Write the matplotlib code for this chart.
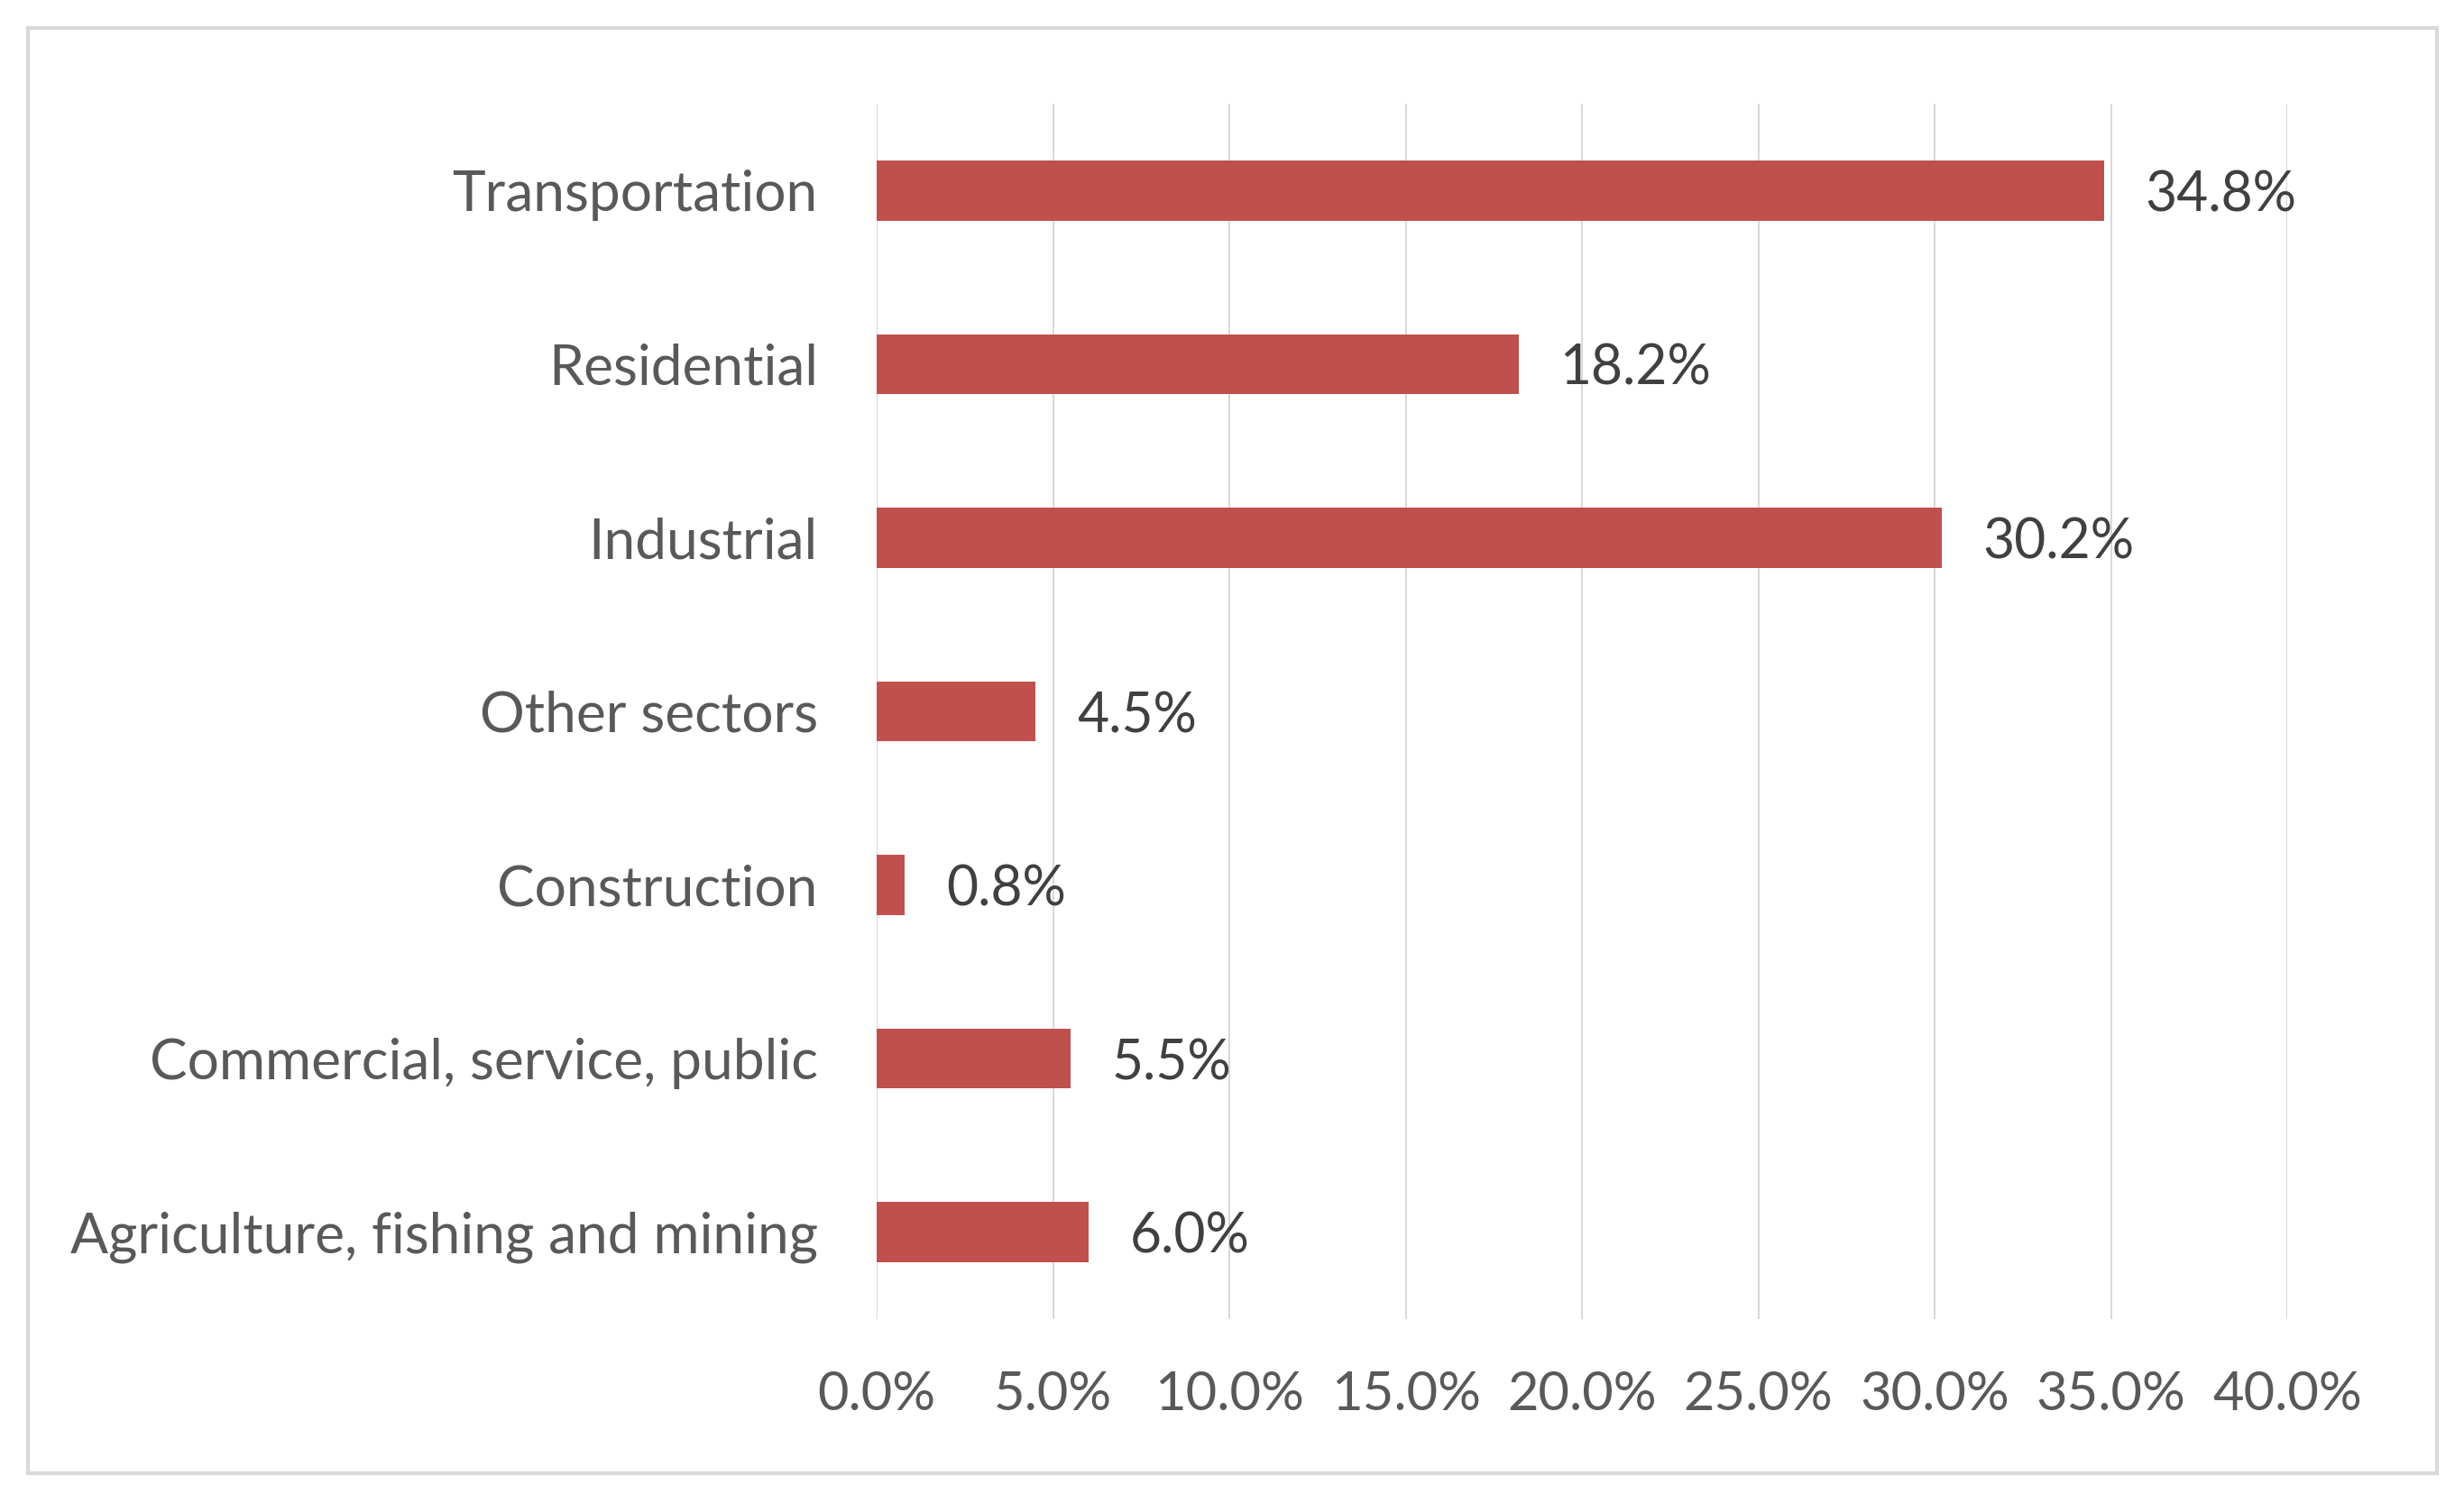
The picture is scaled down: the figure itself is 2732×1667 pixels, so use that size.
import matplotlib
matplotlib.use('Agg')
import matplotlib.pyplot as plt
from matplotlib.patches import Rectangle
from matplotlib.ticker import FuncFormatter

# data (bottom to top, as in the chart)
sectors = ['Agriculture, fishing and mining', 'Commercial, service, public',
           'Construction', 'Other sectors', 'Industrial', 'Residential',
           'Transportation']
shares = [6.0, 5.5, 0.8, 4.5, 30.2, 18.2, 34.8]
x_ticks = [0, 5, 10, 15, 20, 25, 30, 35, 40]

plt.rcParams['font.family'] = ['Lato', 'DejaVu Sans']

fig = plt.figure(figsize=(13.66, 8.335), dpi=200)
ax = fig.add_axes([0.3558, 0.1224, 0.5725, 0.8086])

# outer chart border
fig.patches.append(Rectangle((0.0113, 0.0198), 0.9777, 0.9616, transform=fig.transFigure,
                             fill=False, edgecolor='#d9d9d9', linewidth=1.5))

ypos = range(len(sectors))
ax.barh(ypos, shares, height=0.345, color='#c0504d', zorder=3)

for y, v in zip(ypos, shares):
    ax.annotate(f'{v:.1f}%', xy=(v, y), xytext=(16.5, -2), textcoords='offset points',
                ha='left', va='center', fontsize=21.8, color='#404040')

ax.set_xlim(0, 40)
ax.set_ylim(-0.5, len(sectors) - 0.5)
ax.set_xticks(x_ticks)
ax.xaxis.set_major_formatter(FuncFormatter(lambda v, p: f'{v:.1f}%'))
ax.set_yticks(list(ypos))
ax.set_yticklabels(sectors)
ax.grid(axis='x', color='#d9d9d9', linewidth=0.75, zorder=0)
ax.tick_params(axis='x', length=0, pad=20.5, labelsize=21.5, labelcolor='#595959')
ax.tick_params(axis='y', length=0, pad=23.5, labelsize=22.4, labelcolor='#595959')
for s in ax.spines.values():
    s.set_visible(False)

fig.savefig('out.png', dpi=200)
